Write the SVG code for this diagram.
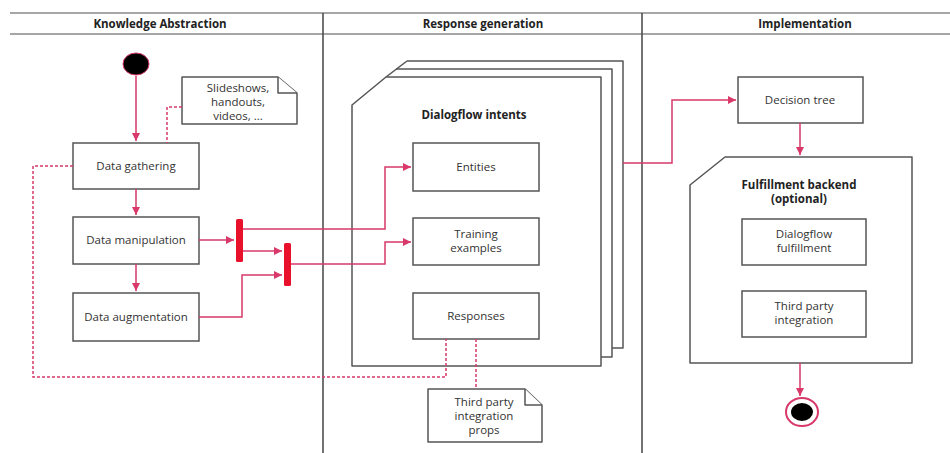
<svg xmlns="http://www.w3.org/2000/svg" width="950" height="453" viewBox="0 0 950 453">
<style>
.box{fill:#fff;stroke:#555;stroke-width:1.5}
.frame{fill:#fff;stroke:#555;stroke-width:1.5;stroke-linejoin:round}
.lane{stroke:#444;stroke-width:1.5;fill:none}
.hdr{stroke:#888;stroke-width:1.5;fill:none}
.t{font-family:"Open Sans","Noto Sans",sans-serif;font-size:11.5px;fill:#333;text-anchor:middle}
.b{font-weight:bold;fill:#222}
.c{stroke:#d8386a;stroke-width:1.5;fill:none}
.d{stroke:#d8386a;stroke-width:1.5;fill:none;stroke-dasharray:3 2}
.bar{fill:#e8102a}
</style>
<defs>
<marker id="ah" markerWidth="10" markerHeight="10" refX="8" refY="4" orient="auto" markerUnits="userSpaceOnUse">
<path d="M0,0 L8,4 L0,8 Z" fill="#d8386a"/>
</marker>
</defs>
<rect width="950" height="453" fill="#fff"/>
<g id="lanes">
<line class="hdr" x1="10" y1="13" x2="950" y2="13"/>
<line class="hdr" x1="10" y1="34" x2="950" y2="34"/>
<line class="lane" x1="323" y1="13" x2="323" y2="453"/>
<line class="lane" x1="642" y1="13" x2="642" y2="453"/>
<text class="t b" x="160" y="28">Knowledge Abstraction</text>
<text class="t b" x="483" y="28">Response generation</text>
<text class="t b" x="805" y="28">Implementation</text>
</g>
<g id="start"><ellipse cx="136" cy="64" rx="13" ry="11" fill="#000" stroke="#d8386a" stroke-width="1"/></g>
<g id="note-slides">
<path class="frame" d="M182,77 L278,77 L297,93 L297,124 L182,124 Z"/>
<path class="frame" d="M278,77 L278,93 L297,93" fill="none"/>
<text class="t" x="238" y="92">Slideshows,</text>
<text class="t" x="238" y="106">handouts,</text>
<text class="t" x="238" y="120">videos, ...</text>
</g>
<g id="data-gathering"><rect class="box" x="73" y="143" width="126" height="46"/><text class="t" x="136" y="170">Data gathering</text></g>
<g id="data-manipulation"><rect class="box" x="73" y="217" width="126" height="47"/><text class="t" x="136" y="244">Data manipulation</text></g>
<g id="data-augmentation"><rect class="box" x="73" y="293" width="126" height="48"/><text class="t" x="136" y="321">Data augmentation</text></g>
<g id="fork1"><rect class="bar" x="236" y="219" width="7" height="43" rx="1.5"/></g>
<g id="fork2"><rect class="bar" x="284" y="243" width="7" height="43" rx="1.5"/></g>
<g id="dialogflow-intents">
<polyline class="frame" points="407,61 623,61 623,348 612,348"/>
<polyline class="frame" points="396,69 612,69 612,357 601,357"/>
<line class="frame" x1="407" y1="61" x2="386" y2="77"/>
<path class="frame" d="M352,105 L386,77 L601,77 L601,366 L352,366 Z"/>
<text class="t b" x="474" y="119">Dialogflow intents</text>
</g>
<g id="entities"><rect class="box" x="413" y="143" width="126" height="48"/><text class="t" x="476" y="171">Entities</text></g>
<g id="training-examples"><rect class="box" x="413" y="218" width="126" height="47"/><text class="t" x="476" y="238">Training</text><text class="t" x="476" y="252">examples</text></g>
<g id="responses"><rect class="box" x="413" y="293" width="126" height="46"/><text class="t" x="476" y="320">Responses</text></g>
<g id="note-props">
<path class="frame" d="M428,389 L525,389 L542,405 L542,442 L428,442 Z"/>
<path class="frame" d="M525,389 L525,405 L542,405" fill="none"/>
<text class="t" x="484" y="406">Third party</text>
<text class="t" x="484" y="420">integration</text>
<text class="t" x="484" y="434">props</text>
</g>
<g id="decision-tree"><rect class="box" x="738" y="77" width="125" height="46"/><text class="t" x="800" y="104">Decision tree</text></g>
<g id="fulfillment-backend">
<path class="frame" d="M690,185 L725,157 L912,157 L912,363 L690,363 Z"/>
<text class="t b" x="799" y="189">Fulfillment backend</text>
<text class="t b" x="799" y="203">(optional)</text>
</g>
<g id="dialogflow-fulfillment"><rect class="box" x="742" y="219" width="124" height="46"/><text class="t" x="804" y="238">Dialogflow</text><text class="t" x="804" y="252">fulfillment</text></g>
<g id="third-party-integration"><rect class="box" x="742" y="291" width="124" height="46"/><text class="t" x="804" y="310">Third party</text><text class="t" x="804" y="324">integration</text></g>
<g id="end"><ellipse cx="802" cy="412" rx="16" ry="14" fill="#fff" stroke="#d8386a" stroke-width="2"/><ellipse cx="802" cy="412" rx="11" ry="9" fill="#000"/></g>
<g id="connectors">
<line class="c" x1="136" y1="76" x2="136" y2="141" marker-end="url(#ah)"/>
<line class="c" x1="136" y1="189" x2="136" y2="215" marker-end="url(#ah)"/>
<line class="c" x1="136" y1="264" x2="136" y2="291" marker-end="url(#ah)"/>
<line class="c" x1="199" y1="240" x2="234" y2="240" marker-end="url(#ah)"/>
<line class="c" x1="243" y1="251" x2="282" y2="251" marker-end="url(#ah)"/>
<polyline class="c" points="199,317 242,317 242,275 282,275" marker-end="url(#ah)"/>
<polyline class="c" points="243,229 385,229 385,167 411,167" marker-end="url(#ah)"/>
<polyline class="c" points="291,264 385,264 385,242 411,242" marker-end="url(#ah)"/>
<polyline class="c" points="623,163 672,163 672,100 736,100" marker-end="url(#ah)"/>
<line class="c" x1="800" y1="123" x2="800" y2="155" marker-end="url(#ah)"/>
<line class="c" x1="800" y1="363" x2="800" y2="396" marker-end="url(#ah)"/>
<polyline class="d" points="182,107 167,107 167,143"/>
<polyline class="d" points="73,166 33,166 33,377 446,377 446,339"/>
<line class="d" x1="476" y1="339" x2="476" y2="389"/>
</g>
</svg>
